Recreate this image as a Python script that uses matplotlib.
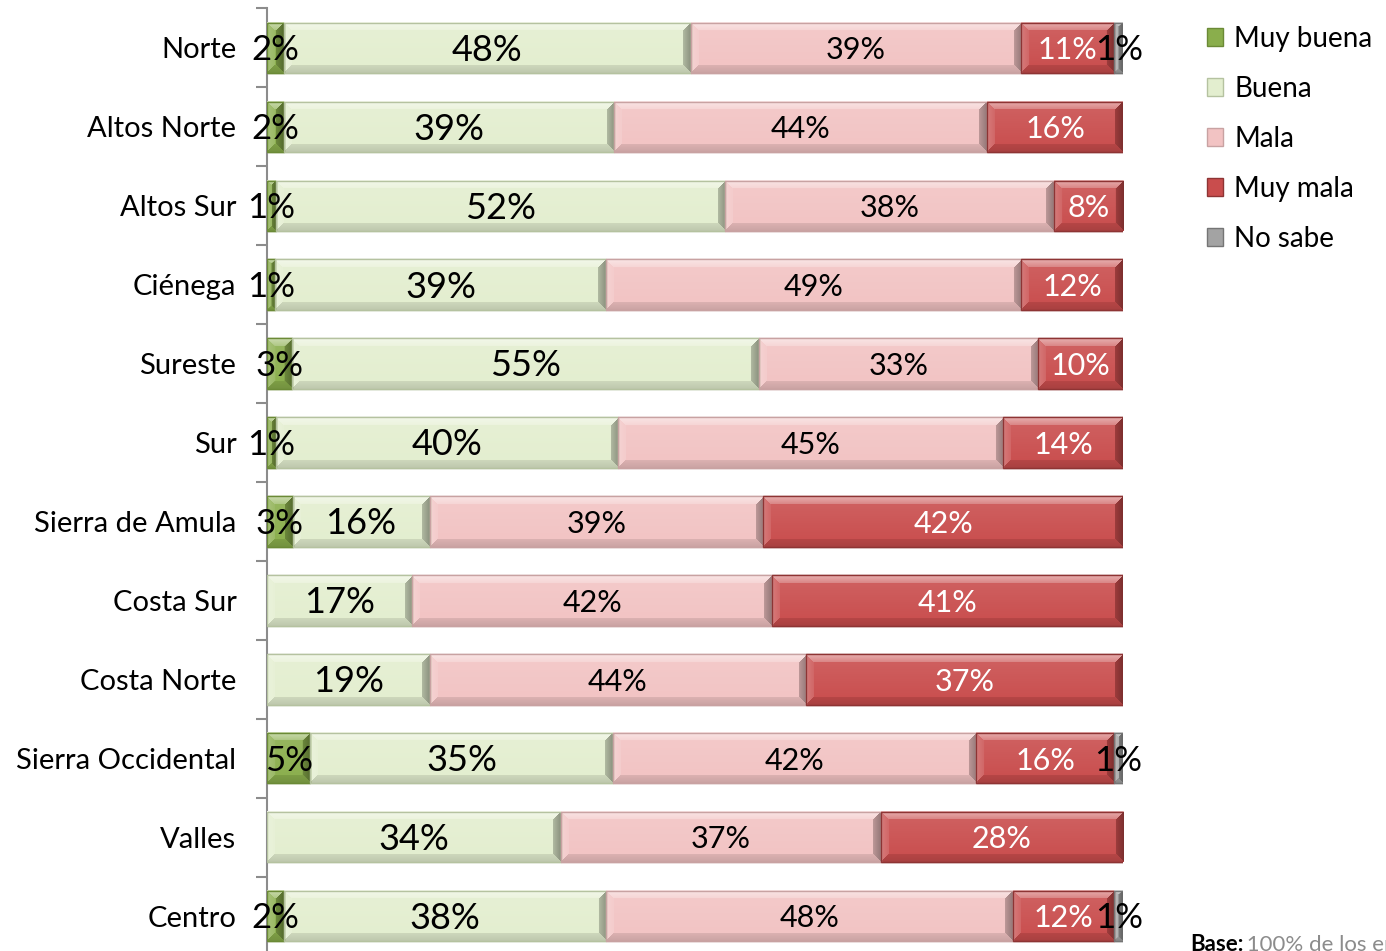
import matplotlib
matplotlib.use("Agg")
import matplotlib.pyplot as plt
import numpy as np
from matplotlib.patches import Patch
from matplotlib.colors import to_rgb

plt.rcParams['font.family'] = ['Lato', 'DejaVu Sans']

regions = ["Norte", "Altos Norte", "Altos Sur", "Ciénega", "Sureste", "Sur",
           "Sierra de Amula", "Costa Sur", "Costa Norte", "Sierra Occidental",
           "Valles", "Centro"]
series = ["Muy buena", "Buena", "Mala", "Muy mala", "No sabe"]
muy_buena = [2, 2, 1, 1, 3, 1, 3, 0, 0, 5, 0, 2]
buena     = [48, 39, 52, 39, 55, 40, 16, 17, 19, 35, 34, 38]
mala      = [39, 44, 38, 49, 33, 45, 39, 42, 44, 42, 37, 48]
muy_mala  = [11, 16, 8, 12, 10, 14, 42, 41, 37, 16, 28, 12]
no_sabe   = [1, 0, 0, 0, 0, 0, 0, 0, 0, 1, 0, 1]

colors = ["#8aae4c", "#e3eecf", "#f2c3c3", "#c94d4d", "#a3a3a3"]
edge_colors = ["#6b8a36", "#b5c2a0", "#c8a2a2", "#8e3434", "#757575"]
label_colors = ["black", "black", "black", "white", "black"]
label_sizes = [25, 26, 22, 22, 25]

data = np.array([muy_buena, buena, mala, muy_mala, no_sabe], dtype=float)
totals = data.sum(axis=0)
shares = data / totals * 100

fig = plt.figure(figsize=(13.86, 9.51), dpi=100)
ax = fig.add_axes([0.1926, -0.0047, 0.6176, 0.9958])
ax.set_xlim(0, 100)
ax.set_ylim(len(regions) - 0.5, -0.5)


def mix(c, other, t):
    return c * (1 - t) + other * t


def bevel_image(color, wpx, hpx, b=8):
    base = np.array(to_rgb(color))
    white = np.ones(3)
    black = np.zeros(3)
    h = max(int(round(hpx)), 2)
    w = max(int(round(wpx)), 2)
    r = np.arange(h)[:, None] * np.ones((1, w))
    c = np.ones((h, 1)) * np.arange(w)[None, :]
    dt, db, dl, dr = r, h - 1 - r, c, w - 1 - c
    bb = min(b, w / 2, h / 2)
    tt = r / max(h - 1, 1)
    img = mix(base[None, None, :], white[None, None, :],
              (0.12 * (1 - tt))[..., None]).copy()
    d = np.stack([dt, db, dl, dr])
    which = np.argmin(d, axis=0)
    mind = np.min(d, axis=0)
    inb = mind < bb
    frac = 1 - mind / max(bb, 1)  # 1 at outer edge, 0 at inner
    specs = [(white, 0.55), (black, 0.16), (white, 0.25), (black, 0.38)]
    for k, (tgt, amt) in enumerate(specs):
        m = inb & (which == k)
        t = amt * (0.55 + 0.45 * frac[m])
        img[m] = mix(base[None, :], tgt[None, :], t[:, None])
    return img


y = np.arange(len(regions))
left = np.zeros(len(regions))
for i, name in enumerate(series):
    bars = ax.barh(y, shares[i], left=left, height=0.64, color=colors[i],
                   edgecolor=edge_colors[i], linewidth=1.0, label=name, zorder=2)
    for b, v in zip(bars, data[i]):
        if v <= 0:
            continue
        x0, y0 = b.get_x(), b.get_y()
        x1, y1 = x0 + b.get_width(), y0 + b.get_height()
        p0 = ax.transData.transform((x0, y0))
        p1 = ax.transData.transform((x1, y1))
        wpx, hpx = abs(p1[0] - p0[0]), abs(p1[1] - p0[1])
        img = bevel_image(colors[i], wpx, hpx)
        ax.imshow(img, extent=(x0, x1, y1, y0), aspect="auto",
                  interpolation="bilinear", zorder=3)
        ax.add_patch(plt.Rectangle((x0, y0), x1 - x0, y1 - y0, fill=False,
                                   edgecolor=edge_colors[i], linewidth=1.0, zorder=4))
        cx = (x0 + x1) / 2
        cy = (y0 + y1) / 2 + 0.03
        ax.text(cx, cy, f"{int(v)}%", ha="center", va="center",
                color=label_colors[i], fontsize=label_sizes[i], zorder=5)
    left += shares[i]

ax.set_xlim(0, 100)
ax.set_ylim(len(regions) - 0.5, -0.5)
ax.set_yticks(y)
ax.set_yticklabels(regions, fontsize=21)
ax.tick_params(axis="y", which="major", length=0, pad=22)
ax.set_yticks(np.arange(-0.5, len(regions), 1.0), minor=True)
ax.tick_params(axis="y", which="minor", length=8, width=1.5, color="#8c8c8c")
ax.xaxis.set_visible(False)
for s in ["top", "right", "bottom"]:
    ax.spines[s].set_visible(False)
ax.spines["left"].set_color("#8c8c8c")
ax.spines["left"].set_linewidth(1.5)

handles = [Patch(facecolor=colors[i], edgecolor=edge_colors[i], label=series[i])
           for i in range(len(series))]
fig.legend(handles=handles, loc="upper left", bbox_to_anchor=(0.8525, 0.999),
           frameon=False, fontsize=20, handlelength=0.6, handleheight=0.6,
           handletextpad=0.4, labelspacing=0.86)

fig.text(0.8586, -0.004, "Base:", fontsize=16, fontweight="bold", ha="left", va="bottom")
fig.text(0.8586 + 0.037, -0.004, " 100% de los encuestados", fontsize=16, color="#8c8c8c",
         ha="left", va="bottom")

fig.savefig("out.png", dpi=100)
